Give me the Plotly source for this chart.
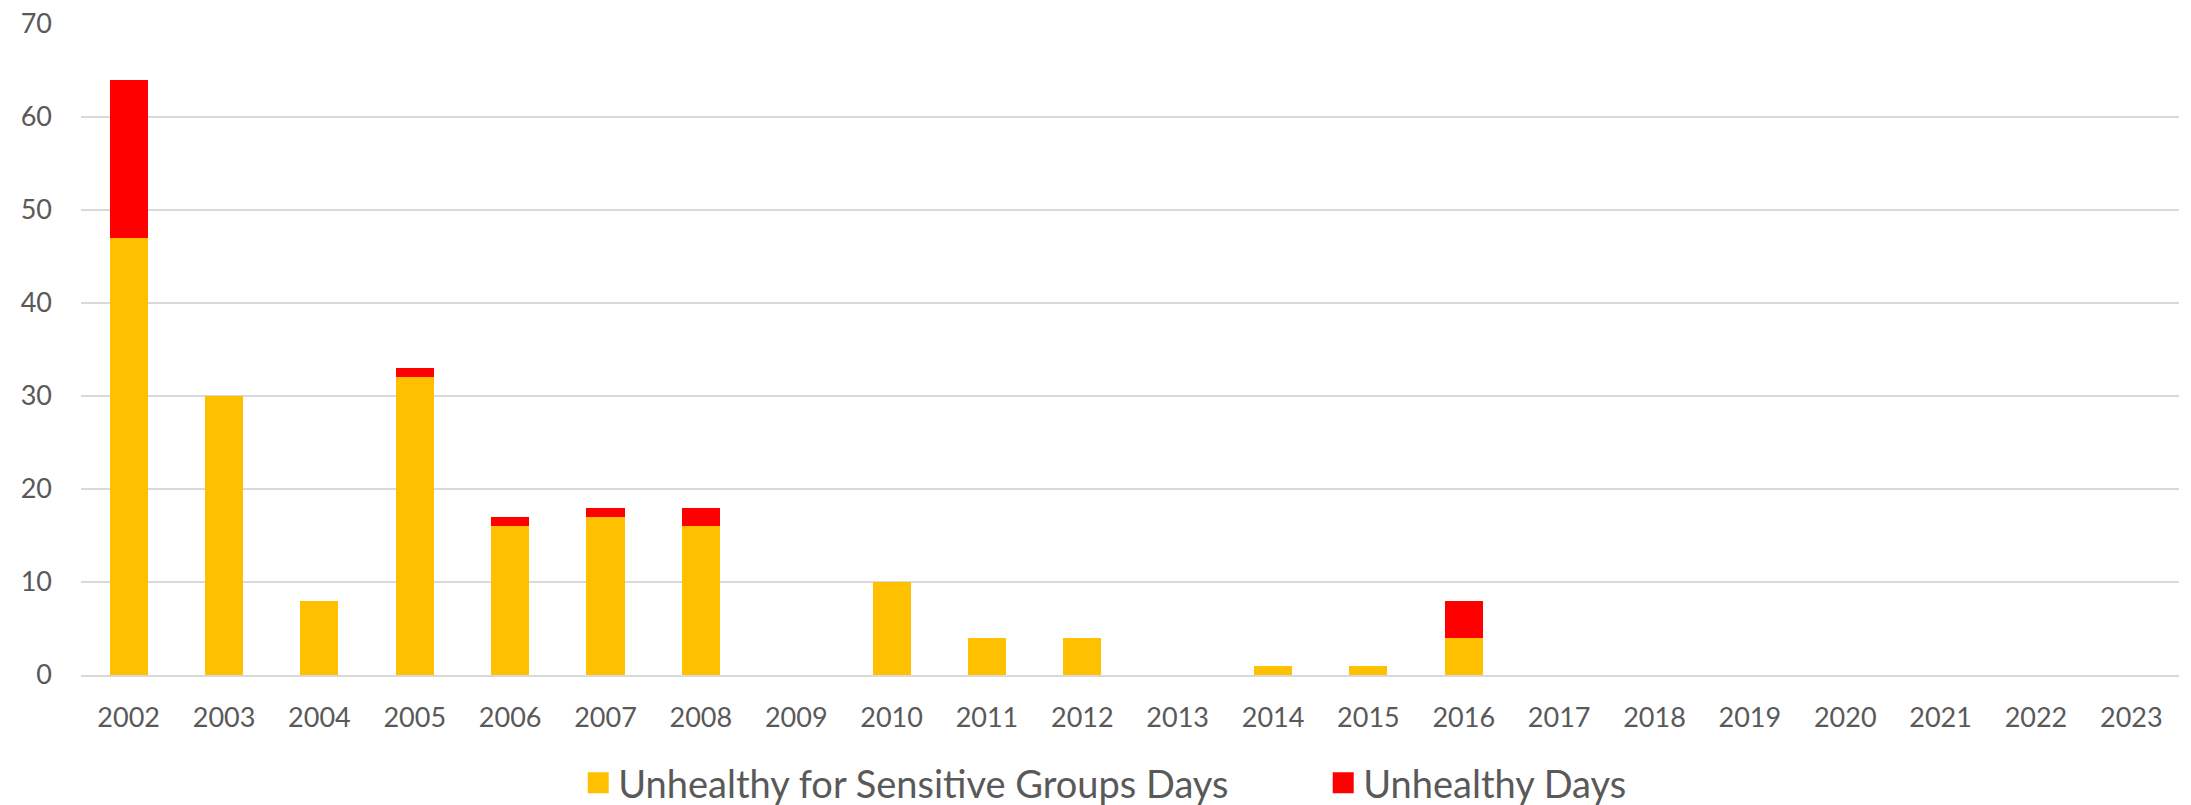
import plotly.graph_objects as go

years = [str(y) for y in range(2002, 2024)]
usg_days = [47, 30, 8, 32, 16, 17, 16, 0, 10, 4, 4, 0, 1, 1, 4, 0, 0, 0, 0, 0, 0, 0]
unhealthy_days = [17, 0, 0, 1, 1, 1, 2, 0, 0, 0, 0, 0, 0, 0, 4, 0, 0, 0, 0, 0, 0, 0]
y_ticks = [0, 10, 20, 30, 40, 50, 60, 70]

YELLOW = "#FFC000"
RED = "#FF0000"
TEXT = "#595959"
GRID = "#D9D9D9"
FONT = "Lato"

fig = go.Figure()
fig.add_trace(go.Bar(x=years, y=usg_days, name="Unhealthy for Sensitive Groups Days",
                     marker=dict(color=YELLOW, line=dict(width=0)), showlegend=False))
fig.add_trace(go.Bar(x=years, y=unhealthy_days, name="Unhealthy Days",
                     marker=dict(color=RED, line=dict(width=0)), showlegend=False))
# legend entries with larger square symbols
for name, col in [("Unhealthy for Sensitive Groups Days", YELLOW), ("Unhealthy Days", RED)]:
    fig.add_trace(go.Scatter(x=[None], y=[None], mode="markers", name=name,
                             marker=dict(symbol="square", size=16, color=col,
                                         line=dict(color=col, width=5))))

fig.update_layout(
    width=2191, height=805,
    barmode="stack", bargap=0.6,
    plot_bgcolor="white", paper_bgcolor="white",
    margin=dict(l=81, r=12, t=24, b=130, autoexpand=False),
    font=dict(family=FONT, color=TEXT, size=27),
    legend=dict(orientation="h", x=0.237, xanchor="left", y=-0.166, yanchor="middle",
                font=dict(size=38, color=TEXT), itemsizing="trace", traceorder="normal",
                entrywidth=700),
)
fig.update_xaxes(type="category", showgrid=False, showline=True, linecolor=GRID, linewidth=2,
                 tickfont=dict(size=27, color=TEXT), ticks="", ticklabelstandoff=18,
                 automargin=False)
fig.update_yaxes(range=[0, 70], tickvals=y_ticks, showgrid=True, gridcolor=GRID, gridwidth=2,
                 zeroline=False, showline=False, tickfont=dict(size=27, color=TEXT),
                 ticks="", ticklabelstandoff=28, automargin=False)

fig.write_html("out.html", config={"displayModeBar": False},
               post_script="document.body.style.margin='0';document.body.style.overflow='hidden';")
